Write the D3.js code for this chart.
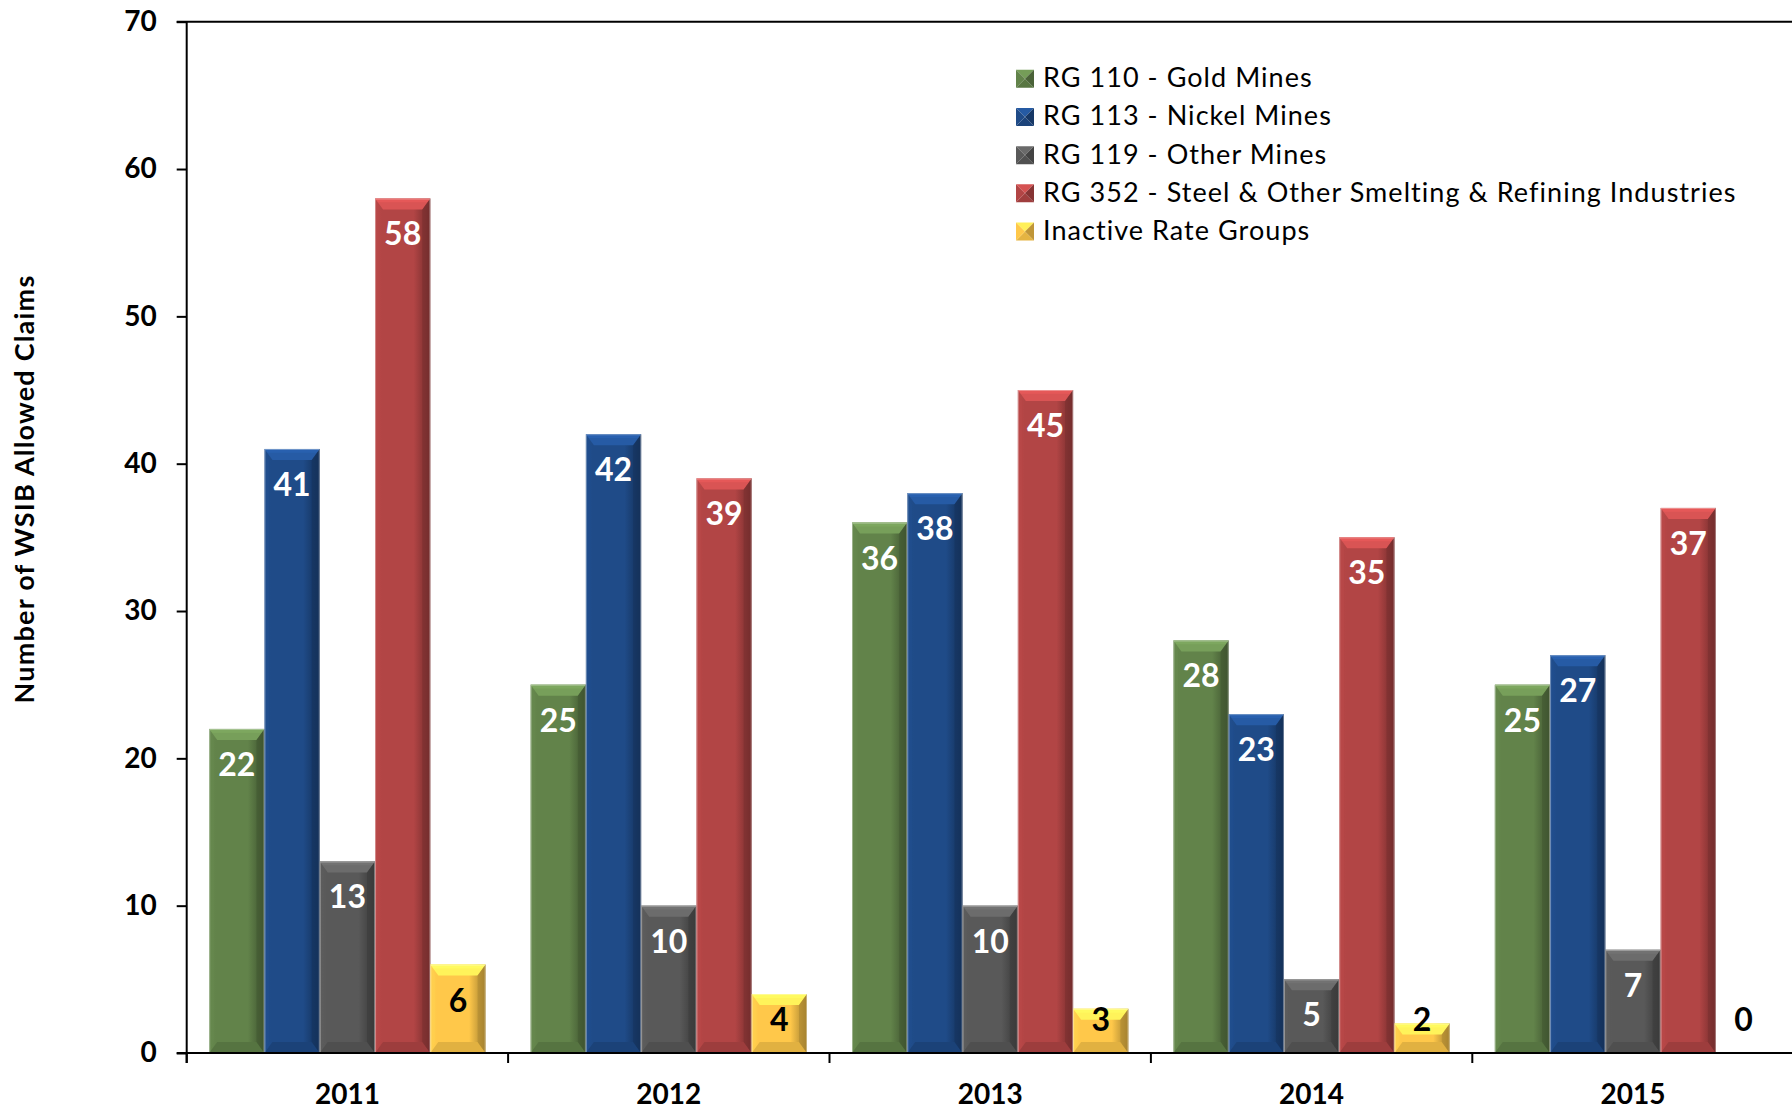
<!DOCTYPE html>
<html><head><meta charset="utf-8">
<script src="https://cdn.jsdelivr.net/npm/d3@7"></script>
<style>
html,body{margin:0;padding:0;background:#fff;}
svg{display:block;font-family:Lato,"Open Sans",sans-serif;}
</style></head>
<body>
<svg id="chart" width="1792" height="1109"></svg>
<script>
const years = ["2011","2012","2013","2014","2015"];
const seriesNames = ["RG 110 - Gold Mines","RG 113 - Nickel Mines","RG 119 - Other Mines","RG 352 - Steel & Other Smelting & Refining Industries","Inactive Rate Groups"];
const goldMines = [22,25,36,28,25];
const nickelMines = [41,42,38,23,27];
const otherMines = [13,10,10,5,7];
const steelSmelting = [58,39,45,35,37];
const inactiveGroups = [6,4,3,2,0];
const yTicks = [0,10,20,30,40,50,60,70];
const seriesColors = ["#62834a","#1f4b88","#595959","#b24545","#ffc84a"];
const labelColors = ["#fff","#fff","#fff","#fff","#000"];

const seriesValues = [goldMines,nickelMines,otherMines,steelSmelting,inactiveGroups];

(function(){
const svg = d3.select("#chart");
const pLeft = 186.7, pTop = 21.7, pBottom = 1053, pRight = 1793.7;

const y = d3.scaleLinear().domain([0,70]).range([pBottom, pTop]);
const x0 = d3.scaleBand().domain(years).range([pLeft, pRight]).padding(0);
const gap = 22.5;
const x1 = d3.scaleBand().domain(d3.range(seriesNames.length)).range([gap, x0.bandwidth()-gap]).padding(0);

const defs = svg.append("defs");
seriesColors.forEach((c,i)=>{
  const base = d3.color(c);
  const g = defs.append("linearGradient").attr("id","side"+i).attr("x1","0").attr("x2","1").attr("y1","0").attr("y2","0");
  g.append("stop").attr("offset","0").attr("stop-color", base.brighter(0.15));
  g.append("stop").attr("offset","0.12").attr("stop-color", base);
  g.append("stop").attr("offset","0.7").attr("stop-color", base);
  g.append("stop").attr("offset","1").attr("stop-color", base.darker(1.3));
});

svg.append("line").attr("x1", pLeft-10).attr("x2", 1792).attr("y1", y(70)).attr("y2", y(70)).attr("stroke","#000").attr("stroke-width",2);

const yAxis = d3.axisLeft(y).tickValues(yTicks).tickSize(10).tickPadding(20).tickFormat(d3.format("d"));
const yg = svg.append("g").attr("transform",`translate(${pLeft},0)`).call(yAxis);
yg.select(".domain").attr("stroke-width",2).attr("d", `M0,${y(70)}V${pBottom+10}`);
yg.selectAll(".tick line").attr("stroke-width",2);
yg.selectAll(".tick text").attr("font-size",28).attr("font-weight",700).attr("fill","#000").attr("font-family","Lato");

const groups = svg.append("g").selectAll("g").data(years).join("g")
  .attr("transform", d=>`translate(${x0(d)},0)`);

groups.each(function(yr, yi){
  const g = d3.select(this);
  seriesValues.forEach((vals, si)=>{
    const v = vals[yi];
    const bx = x1(si), bw = x1.bandwidth();
    const by = y(v), bh = pBottom - by;
    if (bh <= 0) return;
    const base = d3.color(seriesColors[si]);
    const b = Math.min(11, bh/2), s = Math.min(8, bw/2);
    const bg = g.append("g");
    const pts = a => a.map(p=>p.join(",")).join(" ");
    bg.append("rect").attr("x",bx).attr("y",by).attr("width",bw).attr("height",bh).attr("fill",`url(#side${si})`);
    bg.append("polygon").attr("points",pts([[bx,by],[bx+bw,by],[bx+bw-s,by+b],[bx+s,by+b]]))
      .attr("fill", base.brighter(0.55));
    bg.append("polygon").attr("points",pts([[bx,by],[bx+bw,by],[bx+bw-s*0.4,by+b*0.35],[bx+s*0.4,by+b*0.35]]))
      .attr("fill", base.brighter(0.8)).attr("opacity",0.6);
    bg.append("polygon").attr("points",pts([[bx,pBottom],[bx+bw,pBottom],[bx+bw-s,pBottom-b],[bx+s,pBottom-b]]))
      .attr("fill", base.darker(0.35));
    bg.append("polygon").attr("points",pts([[bx,by],[bx+s*0.6,by+b],[bx+s*0.6,pBottom-b],[bx,pBottom]]))
      .attr("fill", base.brighter(0.1)).attr("opacity",0.5);
    bg.append("polygon").attr("points",pts([[bx+bw,by],[bx+bw-s,by+b],[bx+bw-s,pBottom-b],[bx+bw,pBottom]]))
      .attr("fill", base.darker(1.1)).attr("opacity",0.55);
    bg.append("rect").attr("x",bx+0.5).attr("y",by+0.5).attr("width",bw-1).attr("height",bh-0.5)
      .attr("fill","none").attr("stroke","rgba(255,255,255,0.35)").attr("stroke-width",1);
  });
  seriesValues.forEach((vals, si)=>{
    const v = vals[yi];
    const cx = x1(si) + x1.bandwidth()/2;
    const baseline = Math.min(y(v) + 47, pBottom - 22);
    g.append("text").attr("x",cx).attr("y",baseline).attr("text-anchor","middle")
      .attr("font-size",32).attr("font-weight",700).attr("fill",labelColors[si]).text(v);
  });
});

svg.append("line").attr("x1", pLeft-10).attr("x2", 1792).attr("y1", pBottom).attr("y2", pBottom).attr("stroke","#000").attr("stroke-width",2);
const xg = svg.append("g").attr("transform",`translate(0,${pBottom})`);
xg.selectAll("line.tk").data(years).join("line").attr("class","tk")
  .attr("x1", d=>x0(d)).attr("x2", d=>x0(d)).attr("y1",0).attr("y2",10).attr("stroke","#000").attr("stroke-width",2);
xg.selectAll("text").data(years).join("text")
  .attr("x", d=>x0(d)+x0.bandwidth()/2).attr("y", 51).attr("text-anchor","middle")
  .attr("font-size",28).attr("font-weight",700).attr("fill","#000").text(d=>d);

svg.append("text").attr("transform",`translate(34,489) rotate(-90)`).attr("text-anchor","middle")
  .attr("font-size",27).attr("font-weight",700).attr("letter-spacing",1.2).attr("fill","#000").text("Number of WSIB Allowed Claims");

const legend = svg.append("g").attr("transform","translate(1016,0)");
const rowY = d3.scaleLinear().domain([0,4]).range([87.3, 240]);
seriesNames.forEach((name, i)=>{
  const cy = rowY(i) - 8.5, sz = 18, lx = 0, ly = cy - sz/2;
  const base = d3.color(seriesColors[i]);
  const c = [lx+sz/2, cy];
  const pts = a => a.map(p=>p.join(",")).join(" ");
  const row = legend.append("g");
  row.append("polygon").attr("points",pts([[lx,ly],[lx+sz,ly],c])).attr("fill",base.brighter(0.5));
  row.append("polygon").attr("points",pts([[lx,ly+sz],[lx+sz,ly+sz],c])).attr("fill",base.darker(0.3));
  row.append("polygon").attr("points",pts([[lx,ly],[lx,ly+sz],c])).attr("fill",base);
  row.append("polygon").attr("points",pts([[lx+sz,ly],[lx+sz,ly+sz],c])).attr("fill",base.darker(0.8));
  row.append("text").attr("x",27).attr("y",rowY(i)).attr("font-size",27).attr("letter-spacing",1.05).attr("fill","#000").text(name);
});
})();
</script>
</body></html>
